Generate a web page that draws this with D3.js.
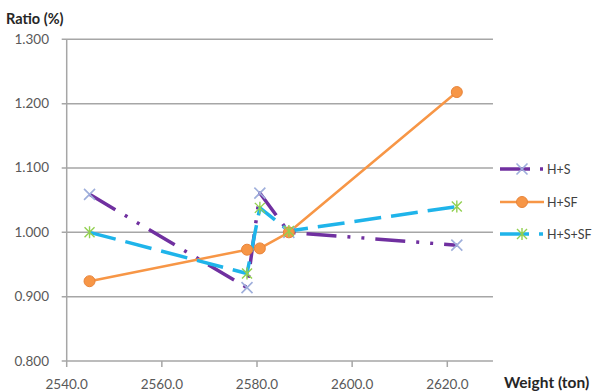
<!DOCTYPE html>
<html><head><meta charset="utf-8">
<script src="https://cdn.jsdelivr.net/npm/d3@7"></script>
<style>body{margin:0;background:#fff}svg{display:block}text{font-family:Lato,"Open Sans",sans-serif}</style>
</head><body><svg id="c" width="598" height="392"></svg>
<script>
const weights = [2544.8, 2577.9, 2580.6, 2586.7, 2622.0];
const seriesNames = ["H+S", "H+SF", "H+S+SF"];
const hs   = [1.059, 0.914, 1.061, 1.000, 0.980];
const hsf  = [0.924, 0.973, 0.975, 1.000, 1.218];
const hssf = [1.000, 0.936, 1.038, 1.002, 1.040];
const xTicks = [2540, 2560, 2580, 2600, 2620];
const yTicks = [0.8, 0.9, 1.0, 1.1, 1.2, 1.3];

const svg = d3.select("#c");
const x = d3.scaleLinear().domain([2540, 2620]).range([66.7, 447.3]);
const y = d3.scaleLinear().domain([0.8, 1.3]).range([361, 39.3]);
const gridRight = x(2629.6);
const axisCol = "#a6a6a6";

// gridlines
svg.append("g").selectAll("line").data(yTicks).join("line")
  .attr("x1", x(2540)-5).attr("x2", gridRight)
  .attr("y1", d=>y(d)).attr("y2", d=>y(d))
  .attr("stroke", axisCol).attr("stroke-width", 1.5);
// y axis line
svg.append("line").attr("x1", x(2540)).attr("x2", x(2540)).attr("y1", y(1.3)).attr("y2", y(0.8))
  .attr("stroke", axisCol).attr("stroke-width", 1.5);
// x ticks
svg.append("g").selectAll("line").data(xTicks).join("line")
  .attr("x1", d=>x(d)).attr("x2", d=>x(d)).attr("y1", y(0.8)).attr("y2", y(0.8)+6)
  .attr("stroke", axisCol).attr("stroke-width", 1.5);

// tick labels
svg.append("g").selectAll("text").data(yTicks).join("text")
  .attr("x", 49).attr("y", d=>y(d)+4.5).attr("text-anchor","end")
  .attr("font-size", 13.5).attr("fill", "#595959").text(d=>d3.format(".3f")(d));
svg.append("g").selectAll("text").data(xTicks).join("text")
  .attr("x", d=>x(d)).attr("y", 389).attr("text-anchor","middle")
  .attr("font-size", 13.5).attr("fill", "#595959").text(d=>d3.format(".1f")(d));

svg.append("text").attr("x", 6).attr("y", 24).attr("font-size", 14.5).attr("font-weight","bold")
  .attr("fill","#262626").text("Ratio (%)");
svg.append("text").attr("x", 504).attr("y", 388).attr("font-size", 15.5).attr("font-weight","bold")
  .attr("fill","#262626").text("Weight (ton)");

const styles = [
  {data: hs, color:"#7030a0", width:3.5, dash:"30,11,3,11,3,11", legDash:"30,10,3,20", marker:"x"},
  {data: hsf, color:"#f79646", width:2.5, dash:null, legDash:null, marker:"circle"},
  {data: hssf, color:"#1fb4ea", width:3.5, dash:"27,10", legDash:"29,10,4,20", marker:"star"}
];
const line = d3.line().x((d,i)=>x(weights[i])).y(d=>y(d));

function drawMarker(g, type, cx, cy){
  const r = 5.5;
  if(type==="x"){
    g.append("path").attr("d", `M${cx-r},${cy-r}L${cx+r},${cy+r}M${cx-r},${cy+r}L${cx+r},${cy-r}`)
      .attr("stroke","#9eaedb").attr("stroke-width",1.6).attr("fill","none");
  } else if(type==="circle"){
    g.append("circle").attr("cx",cx).attr("cy",cy).attr("r",5.5)
      .attr("fill","#f79646").attr("stroke","#e8843a").attr("stroke-width",1);
  } else {
    const s=5;
    g.append("path").attr("d", `M${cx-s},${cy-s}L${cx+s},${cy+s}M${cx-s},${cy+s}L${cx+s},${cy-s}M${cx},${cy-s-1}L${cx},${cy+s+1}`)
      .attr("stroke","#92d050").attr("stroke-width",1.4).attr("fill","none");
  }
}

styles.forEach(s=>{
  svg.append("path").attr("d", line(s.data)).attr("fill","none")
    .attr("stroke", s.color).attr("stroke-width", s.width)
    .attr("stroke-dasharray", s.dash).attr("stroke-linecap","butt").attr("stroke-linejoin","round");
});
styles.forEach(s=>{
  const g = svg.append("g");
  s.data.forEach((v,i)=>drawMarker(g, s.marker, x(weights[i]), y(v)));
});

// legend
const legY = [169, 202, 234];
styles.forEach((s,i)=>{
  const g = svg.append("g");
  g.append("line").attr("x1",500).attr("x2",544).attr("y1",legY[i]).attr("y2",legY[i])
    .attr("stroke",s.color).attr("stroke-width",s.width).attr("stroke-dasharray",s.legDash);
  drawMarker(g, s.marker, 522, legY[i]);
  g.append("text").attr("x",547).attr("y",legY[i]+4.5).attr("font-size",12.5)
    .attr("fill","#404040").text(seriesNames[i]);
});
</script></body></html>
